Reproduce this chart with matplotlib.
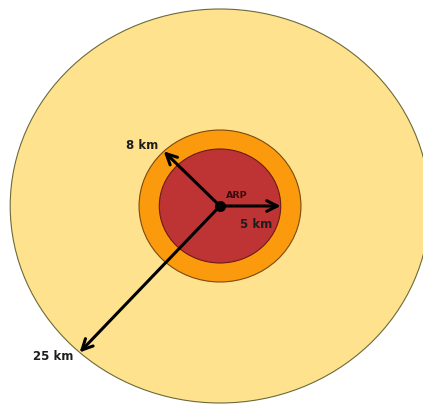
import numpy as np
import matplotlib
matplotlib.use("Agg")
import matplotlib.pyplot as plt
from matplotlib.patches import Circle

# Schematic zones around the ARP (display radii are schematic, not to scale)
zone_labels = ["25 km", "8 km", "5 km"]
zone_radii = [197, 76, 57]            # schematic drawing radii
zone_colors = ["#FFE28E", "#FB9A0C", "#BE3334"]
zone_edges = ["#6b6a3a", "#7a4a10", "#6a1a1a"]
arrow_angles = [228, 134, 0]          # degrees
center_label = "ARP"

XSCALE = 1.065
fig = plt.figure(figsize=(4.23, 4.07), dpi=100)
ax = fig.add_axes([0, 0, 1, 1])
ax.set_xlim(-220 / XSCALE, 203 / XSCALE)
ax.set_ylim(-201, 206)
ax.axis("off")

for r, c, e in zip(zone_radii, zone_colors, zone_edges):
    ax.add_patch(Circle((0, 0), r, facecolor=c, edgecolor=e, linewidth=0.8))

text_offsets = {"25 km": (-26, -4), "8 km": (-22, 6), "5 km": (-25, -18)}
for lab, r, ang in zip(zone_labels, zone_radii, arrow_angles):
    t = np.deg2rad(ang)
    end = (r * np.cos(t), r * np.sin(t))
    ax.annotate("", xy=end, xytext=(0, 0),
                arrowprops=dict(arrowstyle="->", color="black", lw=2.2,
                                mutation_scale=19, shrinkA=0, shrinkB=0))
    dx, dy = text_offsets[lab]
    ax.annotate(lab, xy=end, xytext=(dx, dy), textcoords="offset pixels",
                ha="center", va="center", fontsize=8.5, fontweight="bold",
                color="#1e1e1e")

ax.plot([0], [0], "o", color="black", markersize=7)
ax.annotate(center_label, xy=(0, 0), xytext=(17, 11), textcoords="offset pixels",
            ha="center", va="center", fontsize=6.8, fontweight="bold", color="#3a0a0a")

fig.savefig("out.png", dpi=100)
